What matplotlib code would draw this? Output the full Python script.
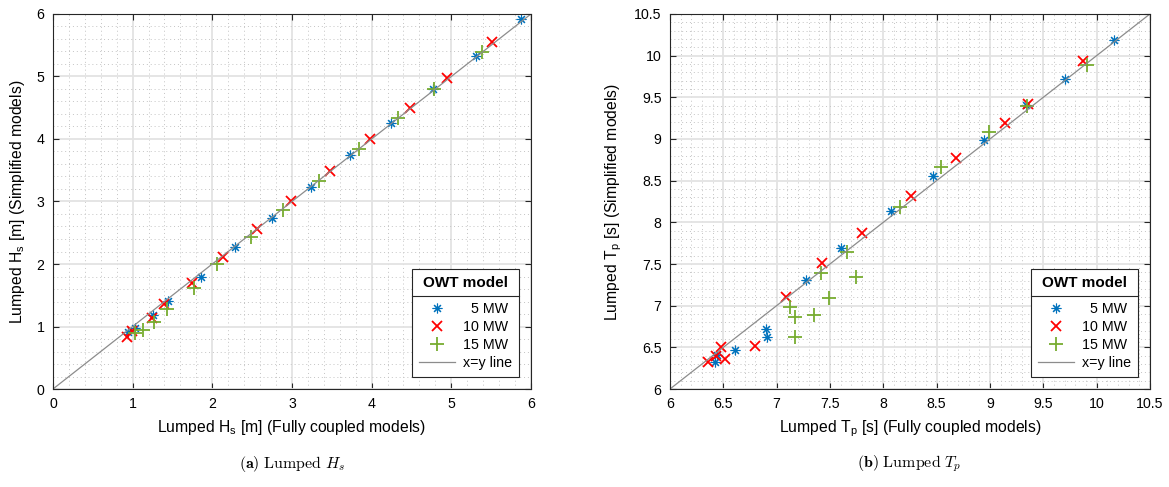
import numpy as np
import matplotlib
matplotlib.use('Agg')
import matplotlib.pyplot as plt
from matplotlib.ticker import MultipleLocator, FuncFormatter
from matplotlib.lines import Line2D

plt.rcParams['font.family'] = ['Liberation Sans', 'DejaVu Sans']
plt.rcParams['mathtext.fontset'] = 'custom'
plt.rcParams['mathtext.rm'] = 'Liberation Sans'
plt.rcParams['mathtext.it'] = 'Liberation Sans:italic'

# ── Lumped Hs (x: fully coupled, y: simplified) ───────────────────────────────
hs_5_x = [5.88, 5.31, 4.77, 4.24, 3.73, 3.24, 2.75, 2.28, 1.86, 1.44, 1.26, 1.03, 0.945]
hs_5_y = [5.92, 5.33, 4.80, 4.25, 3.74, 3.23, 2.74, 2.27, 1.80, 1.41, 1.18, 0.97, 0.92]
hs_10_x = [5.51, 4.94, 4.48, 3.98, 3.48, 2.99, 2.56, 2.14, 1.75, 1.40, 1.24, 0.99, 0.93]
hs_10_y = [5.55, 4.98, 4.50, 4.00, 3.48, 3.01, 2.56, 2.12, 1.69, 1.36, 1.14, 0.93, 0.84]
hs_15_x = [5.39, 4.78, 4.33, 3.84, 3.34, 2.89, 2.48, 2.06, 1.77, 1.43, 1.27, 1.13, 1.03]
hs_15_y = [5.39, 4.80, 4.34, 3.84, 3.33, 2.87, 2.43, 2.00, 1.61, 1.28, 1.08, 0.94, 0.89]

# ── Lumped Tp ─────────────────────────────────────────────────────────────────
tp_5_x = [10.16, 9.70, 9.34, 8.94, 8.47, 8.07, 7.60, 7.28, 6.90, 6.91, 6.61, 6.44, 6.42]
tp_5_y = [10.19, 9.72, 9.41, 8.99, 8.56, 8.13, 7.69, 7.31, 6.72, 6.63, 6.47, 6.41, 6.32]
tp_10_x = [9.87, 9.36, 9.14, 8.68, 8.26, 7.80, 7.43, 7.09, 6.80, 6.48, 6.43, 6.52, 6.36]
tp_10_y = [9.93, 9.42, 9.19, 8.77, 8.32, 7.87, 7.51, 7.11, 6.52, 6.51, 6.40, 6.36, 6.32]
tp_15_x = [9.91, 9.35, 8.99, 8.54, 8.16, 7.66, 7.42, 7.74, 7.49, 7.13, 7.17, 7.35, 7.17]
tp_15_y = [9.89, 9.40, 9.08, 8.66, 8.18, 7.64, 7.39, 7.34, 7.09, 6.99, 6.86, 6.89, 6.62]

labels = ['  5 MW', '10 MW', '15 MW']
colors = ['#0072BD', '#FF0000', '#77AC30']

fig = plt.figure(figsize=(11.69, 4.87), dpi=100)
ax1 = fig.add_axes([0.0453, 0.2012, 0.4089, 0.7701])
ax2 = fig.add_axes([0.5731, 0.2012, 0.4106, 0.7701])


def style(ax, lo, hi, major, minor):
    ax.set_xlim(lo, hi)
    ax.set_ylim(lo, hi)
    for a in (ax.xaxis, ax.yaxis):
        a.set_major_locator(MultipleLocator(major))
        a.set_minor_locator(MultipleLocator(minor))
        a.set_major_formatter(FuncFormatter(lambda v, p: '%g' % v))
    ax.grid(True, which='major', color='#e3e3e3', lw=1.3, ls='-')
    ax.grid(True, which='minor', color='#c4c4c4', lw=0.7, ls=(0, (1, 3)))
    ax.set_axisbelow(True)
    ax.tick_params(which='major', direction='in', length=4.5, width=0.8,
                   top=True, right=True, labelsize=10.2, color='#262626',
                   pad=6)
    ax.tick_params(which='minor', length=0, top=True, right=True)
    for sp in ax.spines.values():
        sp.set_color('#262626')
        sp.set_linewidth(0.8)


def draw(ax, data, lo, hi):
    (x5, y5), (x10, y10), (x15, y15) = data
    h1, = ax.plot(x5, y5, ls='none', marker=(8, 2, 0), ms=7, mew=0.8,
                  color=colors[0], label=labels[0])
    h2, = ax.plot(x10, y10, ls='none', marker='x', ms=7.5, mew=1.3,
                  color=colors[1], label=labels[1])
    h3, = ax.plot(x15, y15, ls='none', marker='+', ms=10, mew=1.3,
                  color=colors[2], label=labels[2])
    h4, = ax.plot([lo, hi], [lo, hi], color='#8c8c8c', lw=0.9, label='x=y line')
    leg = ax.legend(handles=[h1, h2, h3, h4], loc='lower right',
                    title='OWT model', fontsize=10.3, fancybox=False,
                    edgecolor='#262626', framealpha=1, borderpad=0.45,
                    labelspacing=0.28, handlelength=2.5, handletextpad=0.6,
                    borderaxespad=0.85)
    leg.get_title().set_fontweight('bold')
    leg.get_title().set_fontsize(11)
    leg.get_frame().set_linewidth(0.8)
    leg._legend_box.sep = 9  # room for the rule under the title
    return leg


style(ax1, 0, 6, 1, 0.2)
style(ax2, 6, 10.5, 0.5, 0.1)
leg1 = draw(ax1, [(hs_5_x, hs_5_y), (hs_10_x, hs_10_y), (hs_15_x, hs_15_y)], 0, 6)
leg2 = draw(ax2, [(tp_5_x, tp_5_y), (tp_10_x, tp_10_y), (tp_15_x, tp_15_y)], 6, 10.5)

ax1.set_xlabel(r'Lumped H$_{\mathrm{s}}$ [m] (Fully coupled models)', fontsize=11.3, labelpad=5)
ax1.set_ylabel(r'Lumped H$_{\mathrm{s}}$ [m] (Simplified models)', fontsize=11.3, labelpad=7)
ax2.set_xlabel(r'Lumped T$_{\mathrm{p}}$ [s] (Fully coupled models)', fontsize=11.3, labelpad=5)
ax2.set_ylabel(r'Lumped T$_{\mathrm{p}}$ [s] (Simplified models)', fontsize=11.3, labelpad=7)

fig.text(0.250, 0.040, r'$\mathbf{(a)}\ \mathrm{Lumped}\ H_s$', ha='center',
         fontsize=11.5, math_fontfamily='cm')
fig.text(0.778, 0.040, r'$\mathbf{(b)}\ \mathrm{Lumped}\ T_p$', ha='center',
         fontsize=11.5, math_fontfamily='cm')

# separator line under the legend title
fig.canvas.draw()
r = fig.canvas.get_renderer()
inv = fig.transFigure.inverted()
for leg in (leg1, leg2):
    fb = leg.get_frame().get_window_extent(r)
    tb = leg.get_title().get_window_extent(r)
    first = leg.get_texts()[0].get_window_extent(r)
    yline = (tb.y0 + first.y1) / 2
    (x0, y0), (x1, _) = inv.transform([(fb.x0, yline), (fb.x1, yline)])
    fig.add_artist(Line2D([x0, x1], [y0, y0], color='#262626', lw=0.8,
                          transform=fig.transFigure, zorder=10))

fig.savefig('out.png', dpi=100)
